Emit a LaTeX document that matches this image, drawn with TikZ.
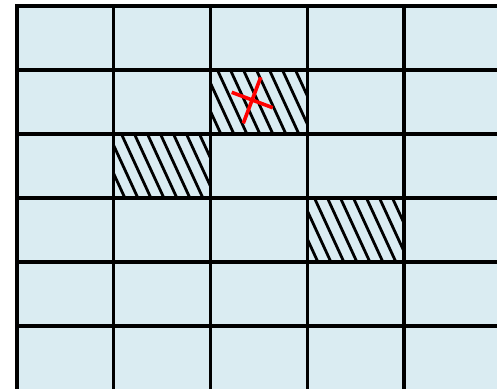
\documentclass[tikz,border=0pt]{standalone}
\definecolor{cellblue}{RGB}{218,236,242}
\begin{document}
\begin{tikzpicture}[x=1pt,y=-1pt,
  gridline/.style={black, line width=3.3pt, line cap=rect},
  hatchline/.style={black, line width=2.8pt},
  cross/.style={red, line width=3.6pt}]
\useasboundingbox (0,0) rectangle (497,388);
\fill[white] (0,0) rectangle (497,388);
\begin{scope}
  \clip (0,0) rectangle (497,388);
  \fill[cellblue] (17,6) rectangle (520,400);
  % hatched cells
  \foreach \cx/\cy in {210/70, 114/134, 307/198}{
    \begin{scope}
      \clip (\cx,\cy) rectangle ++(97,64);
      \foreach \k in {-3,...,8}
        \draw[hatchline] ({\cx+6.5+13*\k},{\cy-2}) -- ++(30.4,66);
    \end{scope}
  }
  % grid
  \foreach \i in {0,...,5}
    \draw[gridline] ({17+96.75*\i},6) -- ({17+96.75*\i},400);
  \foreach \j in {0,...,5}
    \draw[gridline] (17,{6+64*\j}) -- (520,{6+64*\j});
\end{scope}
% red cross
\draw[cross] (231.7,92.3) -- (272.7,107.7);
\draw[cross] (260.7,77.3) -- (243.3,123.3);
\end{tikzpicture}
\end{document}
